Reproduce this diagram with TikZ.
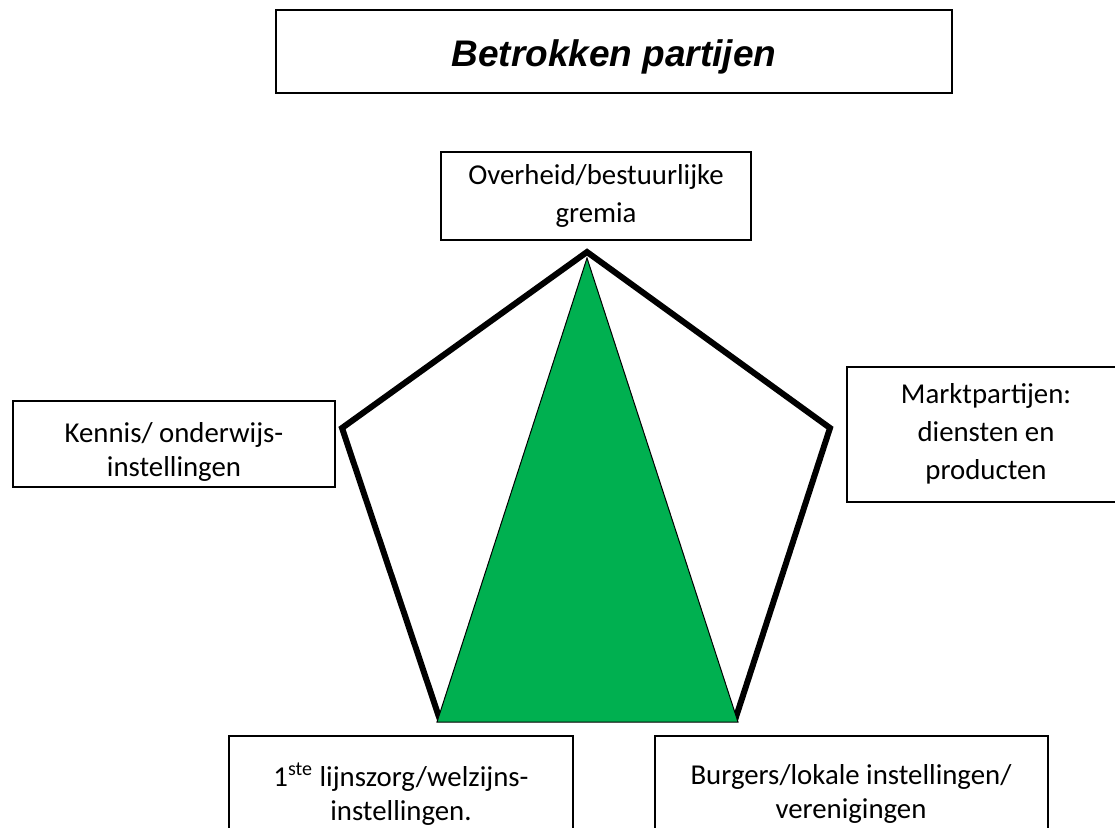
\documentclass[tikz,border=0pt]{standalone}
\usepackage{fontspec}
\setmainfont{Carlito}
\newfontfamily\titlefont{Liberation Sans}
\usepackage{xcolor}
\usetikzlibrary{positioning}
\definecolor{coregreen}{HTML}{00B050}
\tikzset{
  party/.style={draw, line width=1pt, align=center, inner sep=0pt,
                font=\fontsize{14.4}{19}\selectfont},
  partytext/.style={align=center, inner sep=0pt, font=\fontsize{14.4}{17}\selectfont},
  pent/.style={line width=3pt, line join=miter},
  core/.style={fill=coregreen, draw=black, line width=0.5pt}
}
\begin{document}
\begin{tikzpicture}[x=0.5pt, y=-0.5pt]
  \clip (0,0) rectangle (1115,827);
  % title
  \node[party, minimum width=338pt, minimum height=41.5pt, text height=15pt, text depth=0pt,
        font=\titlefont\fontsize{18.5}{22}\selectfont\bfseries\itshape] (title) at (614,51.5) {Betrokken partijen};
  % parties round the pentagon
  \node[party, minimum width=155pt, minimum height=44pt] (gov) at (596,196) {Overheid/bestuurlijke\\gremia};
  \node[party, minimum width=161pt, minimum height=43pt] (kennis) at (174,444) {};
  \begin{scope}
    \clip (kennis.north west) rectangle (kennis.east |- 0,480);
    \node[partytext] (kennistxt) at (174,452) {Kennis/ onderwijs-\\instellingen};
  \end{scope}
  \node[party, minimum width=139pt, minimum height=67.5pt] (markt) at (986,434) {Marktpartijen:\\diensten en\\producten};
  \node[party, partytext, draw, minimum width=172pt, minimum height=58pt] (zorg) at (401,794) {1\textsuperscript{ste} lijnszorg/welzijns-\\instellingen.};
  \node[party, partytext, draw, minimum width=196.5pt, minimum height=58pt] (burger) at (851,794) {Burgers/lokale instellingen/\\verenigingen};
  % pentagon and green core
  \coordinate (p1) at (587,252);
  \coordinate (p2) at (830,428);
  \coordinate (p3) at (736,717);
  \coordinate (p4) at (439,717);
  \coordinate (p5) at (342,428);
  \draw[pent] (p1) -- (p2) -- (p3) -- (p4) -- (p5) -- cycle;
  \draw[core] (587,258) -- (738,722) -- (437,722) -- cycle;
\end{tikzpicture}
\end{document}
